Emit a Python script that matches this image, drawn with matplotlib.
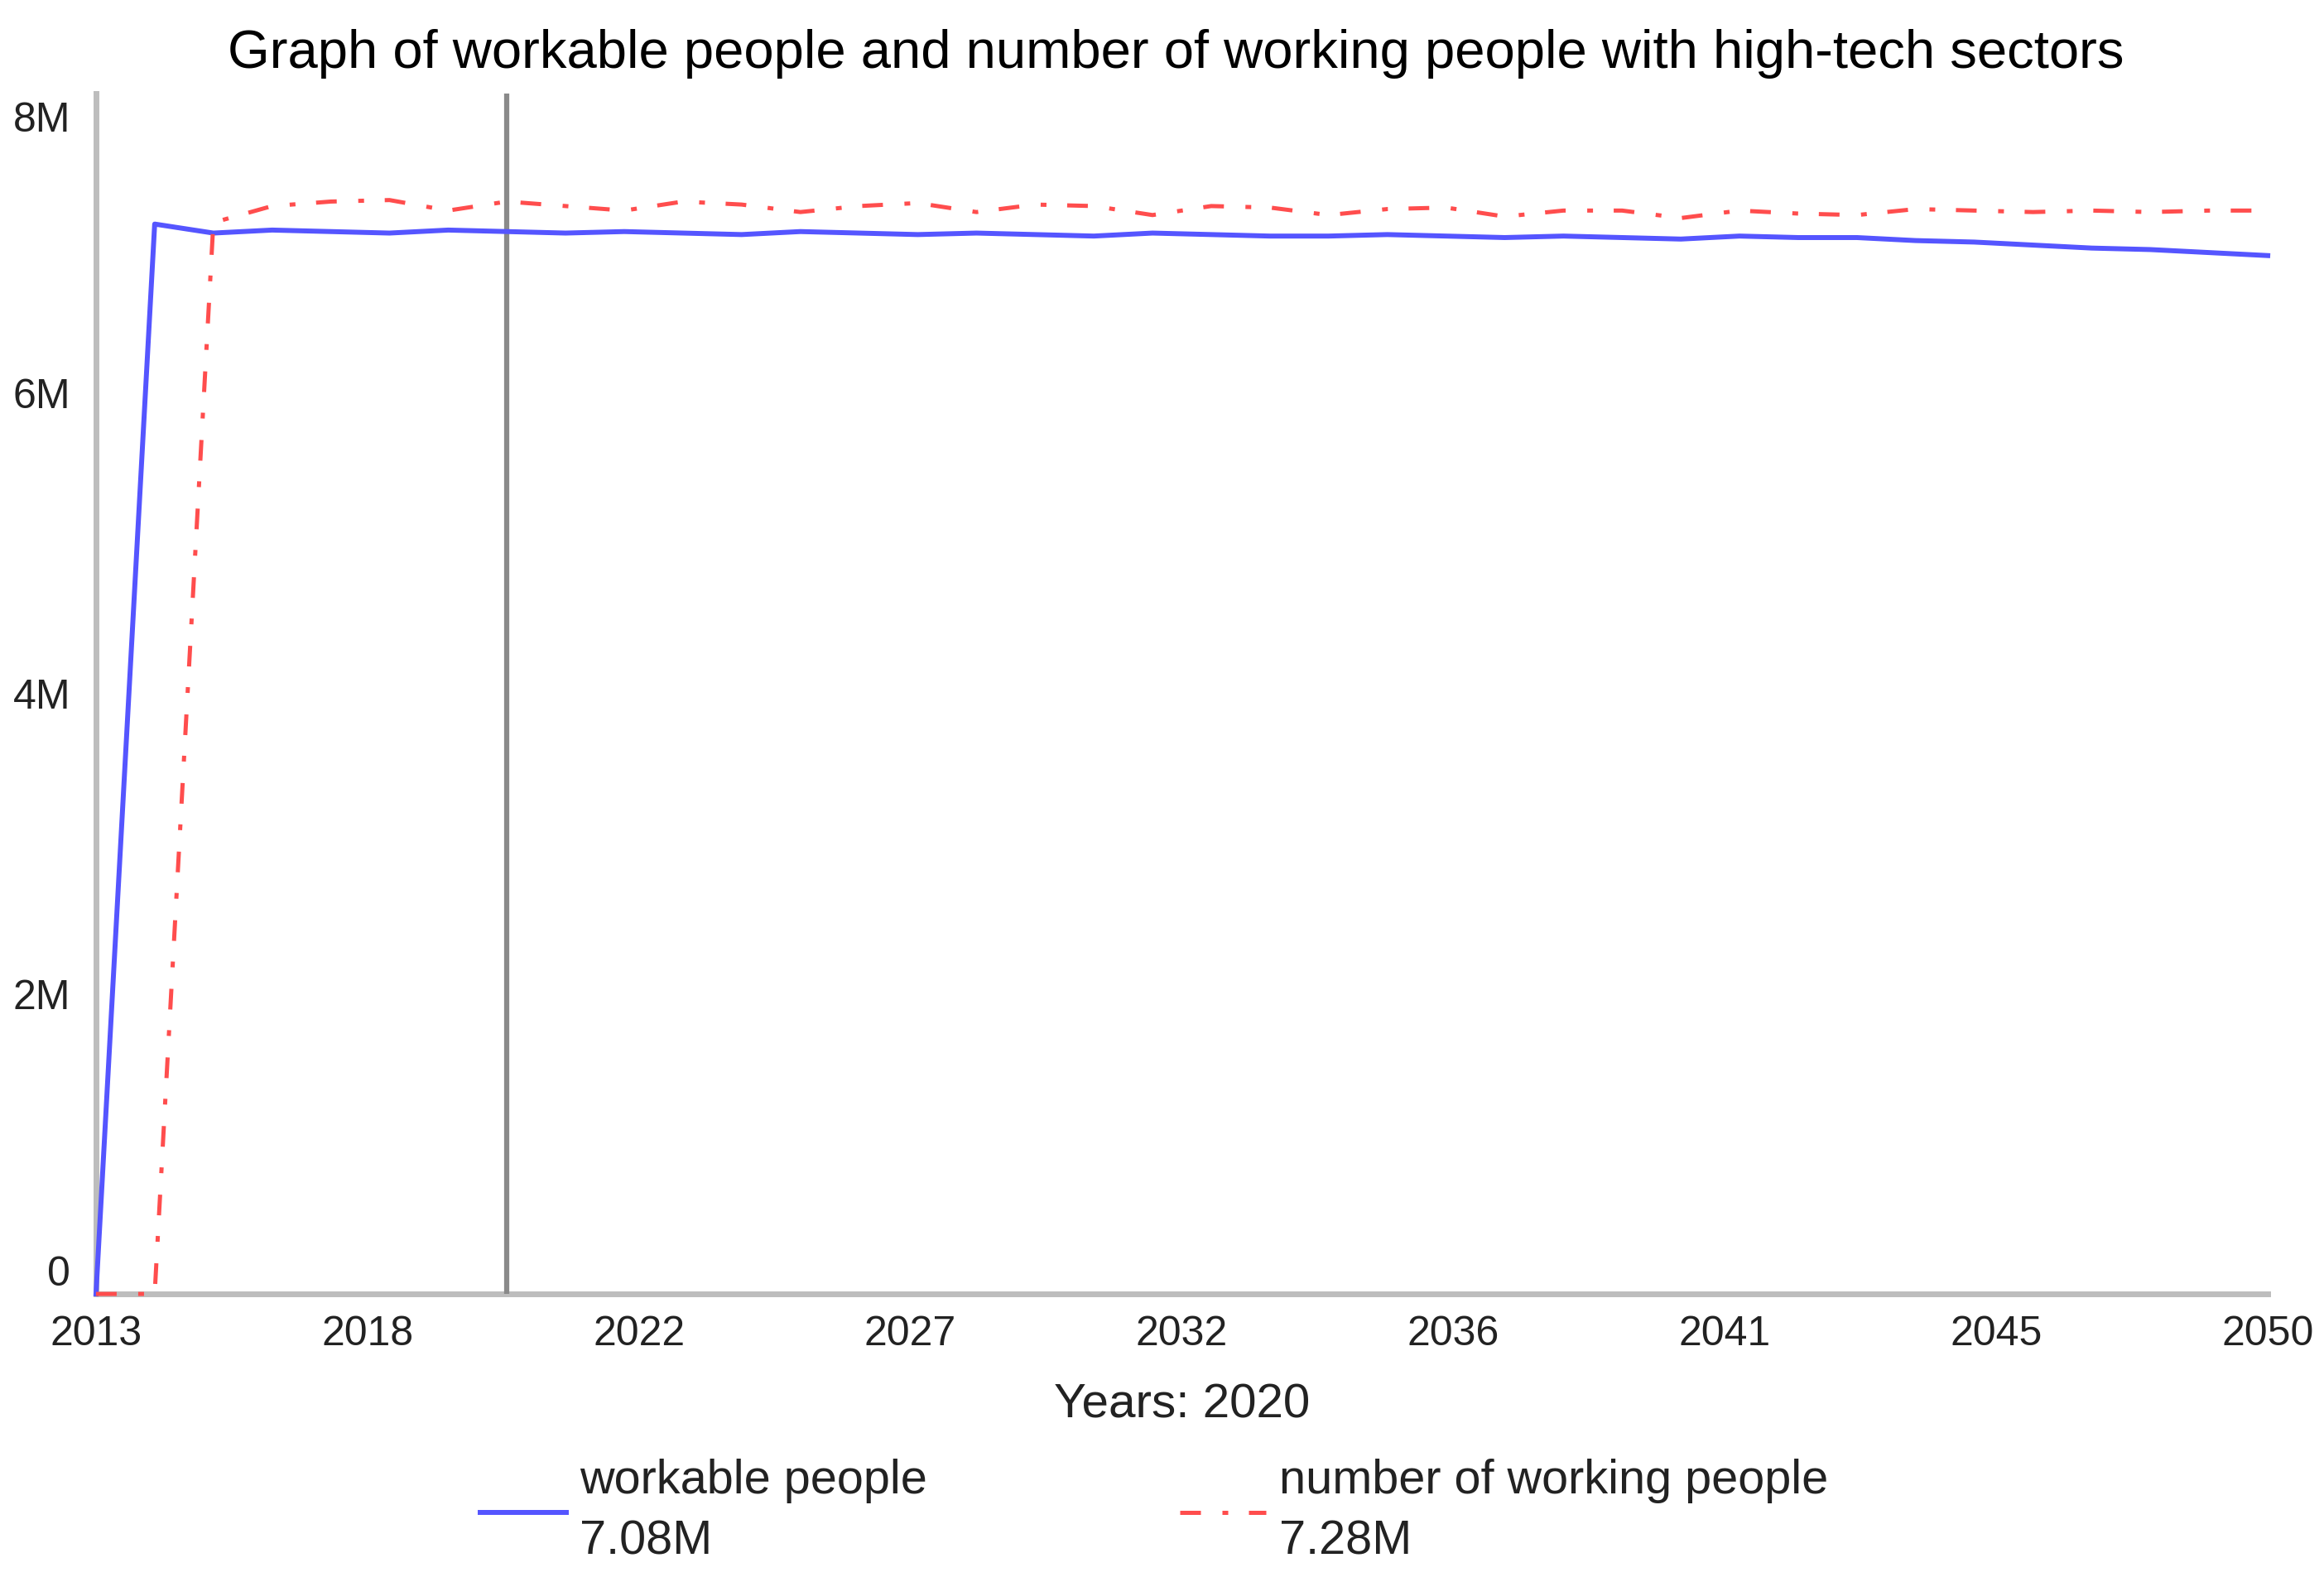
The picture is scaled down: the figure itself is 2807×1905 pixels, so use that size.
import numpy as np
import matplotlib.pyplot as plt
from matplotlib.transforms import ScaledTranslation

plt.rcParams['font.family'] = ['Liberation Sans', 'DejaVu Sans']

# yearly model output (millions)
years = np.arange(2013, 2051)
workable = [0, 7.13, 7.07, 7.09, 7.08, 7.07, 7.09, 7.08, 7.07, 7.08,
            7.07, 7.06, 7.08, 7.07, 7.06, 7.07, 7.06, 7.05, 7.07, 7.06,
            7.05, 7.05, 7.06, 7.05, 7.04, 7.05, 7.04, 7.03, 7.05, 7.04,
            7.04, 7.02, 7.01, 6.99, 6.97, 6.96, 6.94, 6.92]
working = [0, 0, 7.14, 7.25, 7.28, 7.29, 7.22, 7.28, 7.25, 7.22,
           7.28, 7.26, 7.21, 7.25, 7.27, 7.21, 7.26, 7.25, 7.19, 7.25,
           7.24, 7.19, 7.23, 7.24, 7.18, 7.22, 7.22, 7.17, 7.22, 7.20,
           7.19, 7.23, 7.22, 7.21, 7.22, 7.21, 7.22, 7.22]
workable = np.array(workable) * 1e6
working = np.array(working) * 1e6

current_year = 2020
x_ticks = np.linspace(2013, 2050, 9)
x_labels = [str(round(t)) for t in x_ticks]
y_ticks = [0, 2e6, 4e6, 6e6, 8e6]
y_labels = ["0", "2M", "4M", "6M", "8M"]

fig = plt.figure(figsize=(28.07, 19.05), dpi=100)
ax = fig.add_axes([0.0413, 0.1795, 0.9345, 0.7612])

idx = list(years).index(current_year)
ax.plot(years, workable, color="#5555ff", lw=4.3, clip_on=False, zorder=4,
        label=f"workable people\n{workable[idx] / 1e6:.2f}M")
ax.plot(years, working, color="#ff4d4d", lw=3.6, clip_on=False, zorder=5,
        dashes=(5.0, 5.2, 1.4, 5.0),
        label=f"number of working people\n{working[idx] / 1e6:.2f}M")
ax.axvline(current_year, color="#8a8a8a", lw=4.5, zorder=3)

ax.set_xlim(2013, 2050)
ax.set_ylim(0, 8e6)
ax.set_xticks(x_ticks)
ax.set_xticklabels(x_labels)
ax.set_yticks(y_ticks)
ax.set_yticklabels(y_labels)
ax.tick_params(length=0, labelsize=36, colors="#222222")
ax.tick_params(axis="x", pad=19)
ax.tick_params(axis="y", pad=22)
labs = ax.get_yticklabels()
labs[0].set_va("bottom")
labs[-1].set_va("top")
labs[-1].set_transform(labs[-1].get_transform()
                       + ScaledTranslation(0, -7 / 72, fig.dpi_scale_trans))

for s in ["top", "right"]:
    ax.spines[s].set_visible(False)
for s in ["left", "bottom"]:
    ax.spines[s].set_color("#bdbdbd")
    ax.spines[s].set_linewidth(5)

ax.set_xlabel(f"Years: {current_year}", fontsize=42, labelpad=25, color="#222222")
fig.suptitle("Graph of workable people and number of working people with high-tech sectors",
             fontsize=47, x=0.506, y=0.966, va="center")

leg = fig.legend(loc="center", bbox_to_anchor=(0.4966, 0.0415), ncol=2, frameon=False,
                 fontsize=41.5, handlelength=1.8, handletextpad=0.28, columnspacing=5.3)
for t in leg.get_texts():
    t.set_color("#222222")
    t.set_linespacing(1.45)

fig.savefig("out.png", dpi=100)
